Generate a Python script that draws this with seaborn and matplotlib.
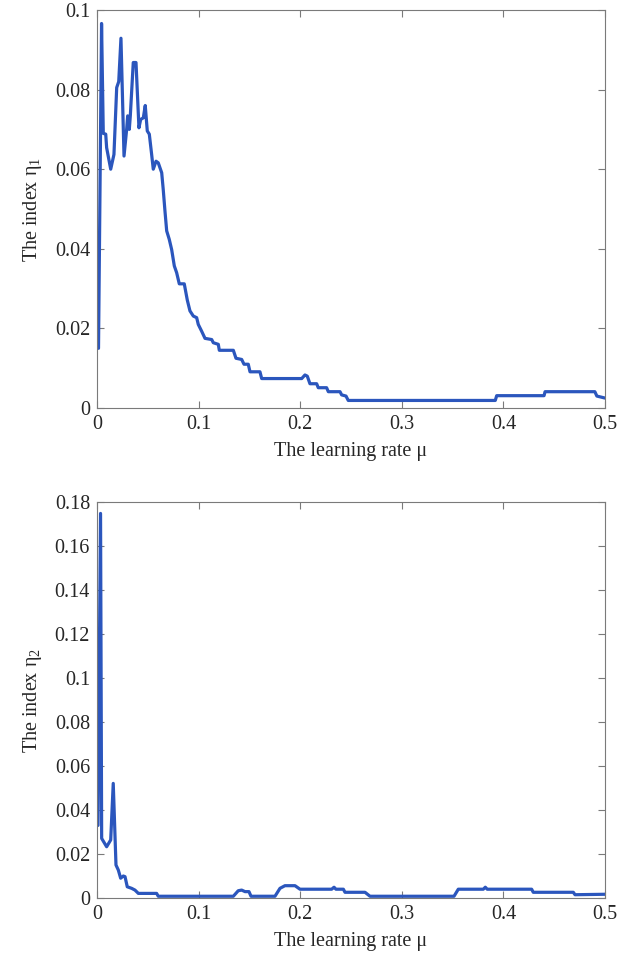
import numpy as np
import pandas as pd
import matplotlib
matplotlib.use("Agg")
import matplotlib.pyplot as plt
import seaborn as sns

# learning rate vs index eta_1 (top panel)
mu_1 = [0.0015, 0.0045, 0.0062, 0.0086, 0.0095, 0.0135, 0.0167, 0.0194, 0.0214,
        0.0236, 0.0266, 0.0292, 0.0302, 0.0318, 0.0328, 0.0357, 0.0384, 0.0413,
        0.0430, 0.0456, 0.0475, 0.0495, 0.0515, 0.0538, 0.0554, 0.0581, 0.0603,
        0.0637, 0.0652, 0.0669, 0.0686, 0.0711, 0.0735, 0.0761, 0.0784, 0.0810,
        0.0859, 0.0889, 0.0915, 0.0948, 0.0981, 0.0997, 0.1030, 0.1063, 0.1129,
        0.1145, 0.1194, 0.1204, 0.1342, 0.1368, 0.1424, 0.1447, 0.1489, 0.1506,
        0.1604, 0.1621, 0.2015, 0.2047, 0.2070, 0.2096, 0.2162, 0.2178, 0.2260,
        0.2277, 0.2392, 0.2408, 0.2451, 0.2473, 0.3920, 0.3934, 0.4400, 0.4410,
        0.4900, 0.4920, 0.5000]
eta_1 = [0.0150, 0.0966, 0.0690, 0.0688, 0.0654, 0.0600, 0.0637, 0.0805, 0.0820,
         0.0929, 0.0633, 0.0700, 0.0734, 0.0700, 0.0734, 0.0868, 0.0868, 0.0704,
         0.0725, 0.0729, 0.0760, 0.0696, 0.0688, 0.0637, 0.0600, 0.0620, 0.0616,
         0.0591, 0.0549, 0.0495, 0.0445, 0.0424, 0.0398, 0.0357, 0.0340, 0.0312,
         0.0312, 0.0271, 0.0244, 0.0231, 0.0227, 0.0210, 0.0193, 0.0175, 0.0172,
         0.0164, 0.0160, 0.0145, 0.0145, 0.0125, 0.0122, 0.0110, 0.0110, 0.0091,
         0.0091, 0.0074, 0.0074, 0.0083, 0.0080, 0.0061, 0.0061, 0.0051, 0.0051,
         0.0041, 0.0041, 0.0033, 0.0030, 0.0019, 0.0019, 0.0031, 0.0031, 0.0041,
         0.0041, 0.0030, 0.0025]

# learning rate vs index eta_2 (bottom panel)
mu_2 = [0.0010, 0.0035, 0.0046, 0.0095, 0.0135, 0.0160, 0.0187, 0.0210, 0.0233,
        0.0259, 0.0276, 0.0298, 0.0341, 0.0374, 0.0407, 0.0587, 0.0603, 0.1342,
        0.1390, 0.1424, 0.1457, 0.1496, 0.1516, 0.1752, 0.1801, 0.1850, 0.1949,
        0.1998, 0.2310, 0.2333, 0.2352, 0.2425, 0.2441, 0.2638, 0.2687, 0.3514,
        0.3556, 0.3802, 0.3822, 0.3841, 0.4278, 0.4294, 0.4688, 0.4705, 0.5000]
eta_2 = [0.0330, 0.1748, 0.0271, 0.0233, 0.0264, 0.0521, 0.0150, 0.0127, 0.0090,
         0.0100, 0.0097, 0.0051, 0.0044, 0.0036, 0.0021, 0.0021, 0.0008, 0.0008,
         0.0033, 0.0036, 0.0029, 0.0029, 0.0008, 0.0008, 0.0044, 0.0056, 0.0056,
         0.0040, 0.0040, 0.0049, 0.0040, 0.0040, 0.0026, 0.0026, 0.0008, 0.0008,
         0.0040, 0.0040, 0.0049, 0.0040, 0.0040, 0.0026, 0.0026, 0.0015, 0.0017]

x_ticks = [0, 0.1, 0.2, 0.3, 0.4, 0.5]
x_tick_labels = ["0", "0.1", "0.2", "0.3", "0.4", "0.5"]
y1_ticks = [0, 0.02, 0.04, 0.06, 0.08, 0.1]
y1_tick_labels = ["0", "0.02", "0.04", "0.06", "0.08", "0.1"]
y2_ticks = [0, 0.02, 0.04, 0.06, 0.08, 0.1, 0.12, 0.14, 0.16, 0.18]
y2_tick_labels = ["0", "0.02", "0.04", "0.06", "0.08", "0.1", "0.12", "0.14", "0.16", "0.18"]

sns.set_style("ticks")
plt.rcParams["font.family"] = ["Liberation Serif", "DejaVu Serif"]
plt.rcParams["mathtext.fontset"] = "custom"
plt.rcParams["mathtext.rm"] = "Liberation Serif"
plt.rcParams["mathtext.it"] = "Liberation Serif"

line_color = "#2b56bd"
spine_color = "#7a7a7a"

fig = plt.figure(figsize=(6.31, 9.68), dpi=100)
ax1 = fig.add_axes([0.1537, 0.5785, 0.8051, 0.4112])
ax2 = fig.add_axes([0.1537, 0.0723, 0.8051, 0.4091])

df1 = pd.DataFrame({"mu": mu_1, "eta": eta_1})
df2 = pd.DataFrame({"mu": mu_2, "eta": eta_2})

sns.lineplot(data=df1, x="mu", y="eta", ax=ax1, color=line_color,
             linewidth=2.3, sort=False, estimator=None)
sns.lineplot(data=df2, x="mu", y="eta", ax=ax2, color=line_color,
             linewidth=2.3, sort=False, estimator=None)

panels = [
    (ax1, y1_ticks, y1_tick_labels, 0.1, "The index η$_{1}$"),
    (ax2, y2_ticks, y2_tick_labels, 0.18, "The index η$_{2}$"),
]
for ax, yt, ytl, ytop, ylab in panels:
    ax.set_xlim(0, 0.5)
    ax.set_ylim(0, ytop)
    ax.set_xticks(x_ticks)
    ax.set_xticklabels(x_tick_labels)
    ax.set_yticks(yt)
    ax.set_yticklabels(ytl)
    ax.tick_params(direction="in", top=True, right=True, length=5,
                   width=0.8, color=spine_color, labelsize=14.5, pad=5)
    for s in ax.spines.values():
        s.set_visible(True)
        s.set_color(spine_color)
        s.set_linewidth(0.8)
    ax.set_xlabel("The learning rate μ", fontsize=14.5, labelpad=6)
    ax.set_ylabel(ylab, fontsize=14.5, labelpad=8)

fig.savefig("out.png", dpi=100)
